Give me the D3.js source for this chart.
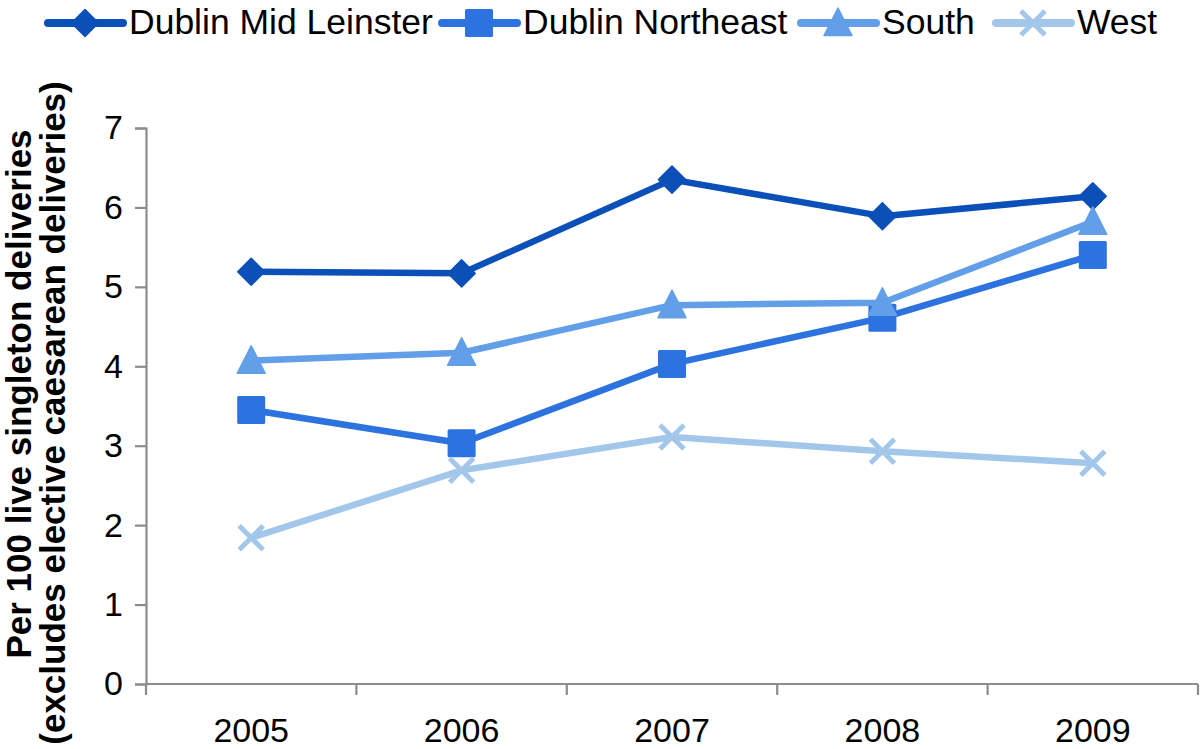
<!DOCTYPE html>
<html>
<head>
<meta charset="utf-8">
<script src="https://cdn.jsdelivr.net/npm/d3@7"></script>
<style>
  html, body { margin: 0; padding: 0; background: #fff; }
  svg { display: block; font-family: "Liberation Sans", Arial, Helvetica, sans-serif; }
</style>
</head>
<body>
<svg id="chart" width="1200" height="749"></svg>
<script>
const years = ["2005", "2006", "2007", "2008", "2009"];
const dublinMidLeinster = [5.19, 5.17, 6.35, 5.89, 6.14];
const dublinNortheast   = [3.45, 3.03, 4.03, 4.61, 5.40];
const south             = [4.07, 4.17, 4.77, 4.80, 5.82];
const west              = [1.84, 2.69, 3.11, 2.93, 2.78];
const yTicks = [0, 1, 2, 3, 4, 5, 6, 7];
const yTitle1 = "Per 100 live singleton deliveries";
const yTitle2 = "(excludes elective caesarean deliveries)";

const series = [
  { name: "Dublin Mid Leinster", values: dublinMidLeinster, color: "#0b4fb8", marker: "diamond" },
  { name: "Dublin Northeast",    values: dublinNortheast,   color: "#2c73e0", marker: "square" },
  { name: "South",               values: south,             color: "#629fe8", marker: "triangle" },
  { name: "West",                values: west,              color: "#a2c7ea", marker: "x" }
];

const svg = d3.select("#chart");
const plotLeft = 146, plotRight = 1198, plotTop = 128, plotBottom = 684;

const x = d3.scaleBand().domain(years).range([plotLeft, plotRight]).padding(0);
const y = d3.scaleLinear().domain([0, 7]).range([plotBottom, plotTop]);
const cx = d => x(d) + x.bandwidth() / 2;

const axisColor = "#8c8c8c";

// Y axis
const yAxis = svg.append("g").attr("transform", `translate(${plotLeft},0)`)
  .call(d3.axisLeft(y).tickValues(yTicks).tickSize(11).tickPadding(12).tickFormat(d3.format("d")));
yAxis.select(".domain").attr("stroke", axisColor).attr("stroke-width", 2.2);
yAxis.selectAll(".tick line").attr("stroke", axisColor).attr("stroke-width", 2.2);
yAxis.selectAll(".tick text").attr("fill", "#000").style("font-size", "34px")
  .style("font-family", "'Liberation Sans', Arial, sans-serif");

// X axis with ticks at band boundaries
const xAxisG = svg.append("g").attr("transform", `translate(0,${plotBottom})`);
xAxisG.append("line").attr("x1", plotLeft).attr("x2", plotRight).attr("y1", 0).attr("y2", 0)
  .attr("stroke", axisColor).attr("stroke-width", 2.2);
const boundaries = years.map(d => x(d)).concat([x(years[years.length - 1]) + x.bandwidth()]);
xAxisG.selectAll("line.tk").data(boundaries).join("line").attr("class", "tk")
  .attr("x1", d => d).attr("x2", d => d).attr("y1", 0).attr("y2", 11)
  .attr("stroke", axisColor).attr("stroke-width", 2.2);
xAxisG.selectAll("text").data(years).join("text")
  .attr("x", d => cx(d)).attr("y", 58).attr("text-anchor", "middle")
  .style("font-size", "34px").attr("fill", "#000").text(d => d);

// Y title
svg.append("text").attr("transform", `translate(31,394) rotate(-90)`)
  .attr("text-anchor", "middle").style("font-size", "35px").style("font-weight", "bold")
  .text(yTitle1);
svg.append("text").attr("transform", `translate(65,413) rotate(-90)`)
  .attr("text-anchor", "middle").style("font-size", "35px").style("font-weight", "bold")
  .text(yTitle2);

// Marker drawing
function drawMarker(g, type, px, py, color, scale = 1) {
  if (type === "diamond") {
    const r = 13.5 * scale;
    g.append("path").attr("d", `M${px},${py - r}L${px + r},${py}L${px},${py + r}L${px - r},${py}Z`)
      .attr("fill", color).attr("stroke", color).attr("stroke-width", 1.5).attr("stroke-linejoin", "round");
  } else if (type === "square") {
    const h = 14 * scale;
    g.append("rect").attr("x", px - h).attr("y", py - h).attr("width", 2 * h).attr("height", 2 * h)
      .attr("rx", 1.5).attr("fill", color);
  } else if (type === "triangle") {
    const w = 14 * scale, up = 15 * scale, dn = 12.5 * scale;
    g.append("path").attr("d", `M${px},${py - up}L${px + w},${py + dn}L${px - w},${py + dn}Z`)
      .attr("fill", color).attr("stroke", color).attr("stroke-width", 1.5).attr("stroke-linejoin", "round");
  } else if (type === "x") {
    const r = 12 * scale;
    g.append("path").attr("d", `M${px - r},${py - r}L${px + r},${py + r}M${px - r},${py + r}L${px + r},${py - r}`)
      .attr("fill", "none").attr("stroke", color).attr("stroke-width", 5);
  }
}

// Lines and markers
const line = d3.line().x((d, i) => cx(years[i])).y(d => y(d));
series.forEach(s => {
  const g = svg.append("g");
  g.append("path").datum(s.values).attr("d", line)
    .attr("fill", "none").attr("stroke", s.color).attr("stroke-width", 6.5)
    .attr("stroke-linejoin", "round");
  s.values.forEach((v, i) => drawMarker(g, s.marker, cx(years[i]), y(v), s.color));
});

// Legend
const legendPos = [48, 442, 801, 996];
const legendY = 23;
series.forEach((s, i) => {
  const g = svg.append("g");
  const x0 = legendPos[i];
  g.append("line").attr("x1", x0).attr("x2", x0 + 75).attr("y1", legendY).attr("y2", legendY)
    .attr("stroke", s.color).attr("stroke-width", 8).attr("stroke-linecap", "round");
  drawMarker(g, s.marker, x0 + 37, legendY, s.color, 1);
  g.append("text").attr("x", x0 + 81).attr("y", 34).style("font-size", "35.5px")
    .attr("fill", "#000").text(s.name);
});
</script>
</body>
</html>
